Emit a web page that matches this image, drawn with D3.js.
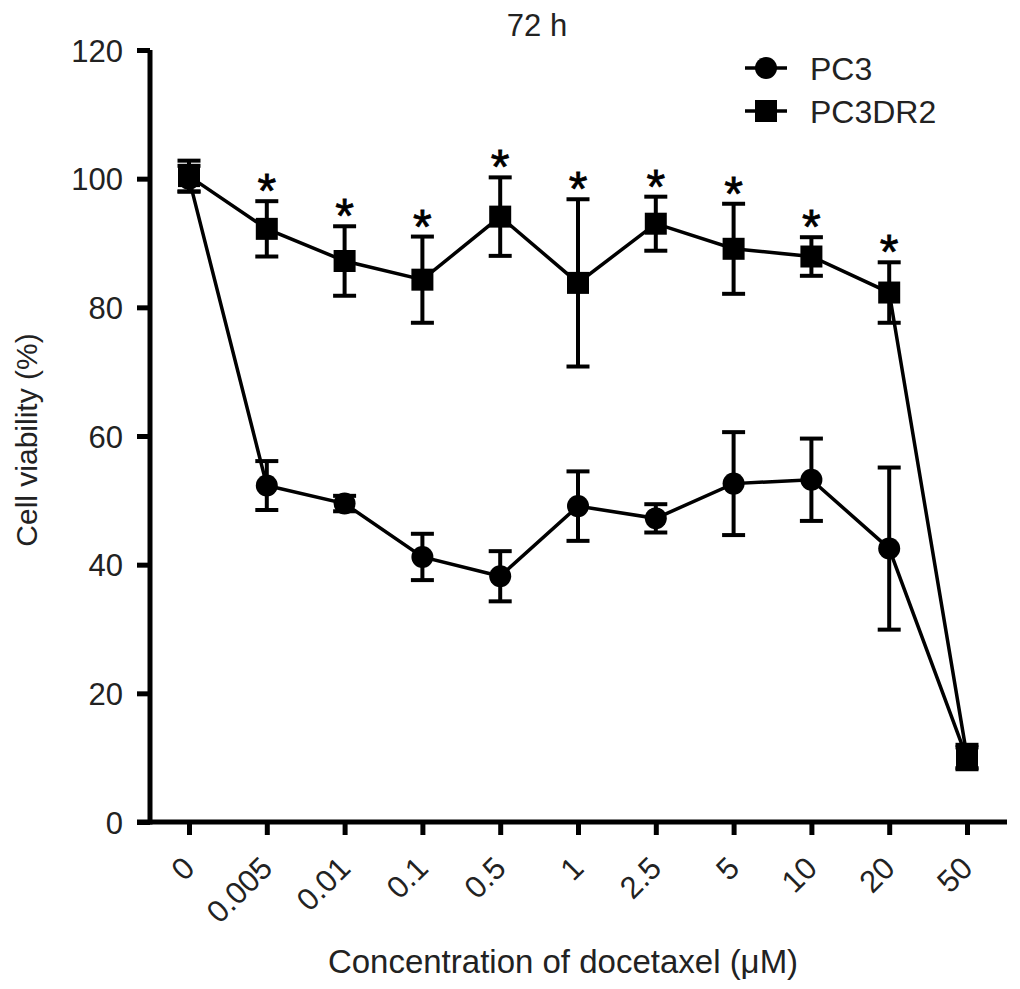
<!DOCTYPE html>
<html>
<head>
<meta charset="utf-8">
<script src="https://cdn.jsdelivr.net/npm/d3@7.9.0/dist/d3.min.js"></script>
<style>
  body { margin: 0; background: #fff; }
  svg { display: block; font-family: "Liberation Sans", Arial, sans-serif; }
</style>
</head>
<body>
<svg id="chart" width="1020" height="989"></svg>
<script>
const concentrations = ["0", "0.005", "0.01", "0.1", "0.5", "1", "2.5", "5", "10", "20", "50"];
const pc3Mean = [100, 52.3, 49.5, 41.2, 38.2, 49.1, 47.2, 52.6, 53.2, 42.5, 9.9];
const pc3Err = [2.0, 3.8, 1.2, 3.6, 3.9, 5.4, 2.2, 8.0, 6.4, 12.6, 1.7];
const dr2Mean = [100.4, 92.2, 87.2, 84.3, 94.1, 83.8, 93.0, 89.1, 87.9, 82.3, 10.2];
const dr2Err = [2.4, 4.3, 5.4, 6.7, 6.1, 13.0, 4.2, 7.0, 3.0, 4.7, 1.8];
const significant = [false, true, true, true, true, true, true, true, true, true, false];
const yTicks = [0, 20, 40, 60, 80, 100, 120];

const svg = d3.select("#chart");

const x = d3.scalePoint().domain(concentrations).range([189, 967]);
const y = d3.scaleLinear().domain([0, 120]).range([822, 50]);

const series = [
  { name: "PC3", shape: "circle", mean: pc3Mean, err: pc3Err },
  { name: "PC3DR2", shape: "square", mean: dr2Mean, err: dr2Err }
].map(s => ({
  ...s,
  points: concentrations.map((c, i) => ({ c, v: s.mean[i], e: s.err[i], sig: significant[i] }))
}));

// axes
const yAxis = svg.append("g")
  .attr("transform", "translate(150,0)")
  .call(d3.axisLeft(y).tickValues(yTicks).tickSize(13).tickPadding(14).tickSizeOuter(0));
yAxis.select(".domain").attr("stroke-width", 5).attr("d", `M0,${y(120)}V${y(0) + 2.5}`);
yAxis.selectAll(".tick line").attr("stroke-width", 5);
yAxis.selectAll(".tick text").attr("font-size", 31).attr("fill", "#222").attr("dy", "0.36em");

const xAxis = svg.append("g")
  .attr("transform", `translate(0,${y(0)})`)
  .call(d3.axisBottom(x).tickSize(13).tickSizeOuter(0));
xAxis.select(".domain").attr("stroke-width", 5).attr("d", "M137,0H1007");
xAxis.selectAll(".tick line").attr("stroke-width", 5);
xAxis.selectAll(".tick text")
  .attr("font-size", 31)
  .attr("fill", "#222")
  .attr("text-anchor", "end")
  .attr("y", 0).attr("dy", 0)
  .attr("transform", "translate(7,48) rotate(-45)");

// lines, error bars, markers
const line = d3.line().x(d => x(d.c)).y(d => y(d.v));
const symbolFor = shape => shape === "circle"
  ? d3.symbol(d3.symbolCircle, Math.PI * 11 * 11)
  : d3.symbol(d3.symbolSquare, 22 * 22);

series.forEach(s => {
  const g = svg.append("g");
  g.append("path")
    .datum(s.points)
    .attr("fill", "none")
    .attr("stroke", "#000")
    .attr("stroke-width", 3.5)
    .attr("d", line);

  const eb = g.selectAll(".err").data(s.points).join("g").attr("class", "err");
  eb.append("line")
    .attr("x1", d => x(d.c)).attr("x2", d => x(d.c))
    .attr("y1", d => y(d.v + d.e)).attr("y2", d => y(d.v - d.e))
    .attr("stroke", "#000").attr("stroke-width", 4);
  [1, -1].forEach(sign => {
    eb.append("line")
      .attr("x1", d => x(d.c) - 11.5).attr("x2", d => x(d.c) + 11.5)
      .attr("y1", d => y(d.v + sign * d.e)).attr("y2", d => y(d.v + sign * d.e))
      .attr("stroke", "#000").attr("stroke-width", 4);
  });

  g.selectAll(".mark").data(s.points).join("path")
    .attr("class", "mark")
    .attr("transform", d => `translate(${x(d.c)},${y(d.v)})`)
    .attr("d", symbolFor(s.shape))
    .attr("fill", "#000");
});

// significance asterisks over PC3DR2
const dr2 = series[1];
svg.append("g").selectAll("text")
  .data(dr2.points.filter(d => d.sig))
  .join("text")
  .attr("x", d => x(d.c))
  .attr("y", d => y(d.v + d.e) + 6)
  .attr("text-anchor", "middle")
  .attr("font-size", 48)
  .attr("fill", "#000")
  .attr("stroke", "#000")
  .attr("stroke-width", 0.8)
  .text("*");

// legend
const legend = svg.append("g").selectAll("g")
  .data(series)
  .join("g")
  .attr("transform", (d, i) => `translate(766,${68 + i * 43})`);
legend.append("line")
  .attr("x1", -21).attr("x2", 21)
  .attr("stroke", "#000").attr("stroke-width", 3.5);
legend.append("path")
  .attr("d", d => symbolFor(d.shape)())
  .attr("fill", "#000");
legend.append("text")
  .attr("x", 44).attr("y", 0).attr("dy", "0.36em")
  .attr("font-size", 32)
  .attr("fill", "#222")
  .text(d => d.name);

// titles
svg.append("text")
  .attr("x", 537).attr("y", 36)
  .attr("text-anchor", "middle")
  .attr("font-size", 31)
  .attr("fill", "#222")
  .text("72 h");

svg.append("text")
  .attr("x", 563).attr("y", 973)
  .attr("text-anchor", "middle")
  .attr("font-size", 33)
  .attr("fill", "#222")
  .text("Concentration of docetaxel (μM)");

svg.append("text")
  .attr("transform", "translate(37,440) rotate(-90)")
  .attr("text-anchor", "middle")
  .attr("font-size", 30)
  .attr("fill", "#222")
  .text("Cell viability (%)");
</script>
</body>
</html>
